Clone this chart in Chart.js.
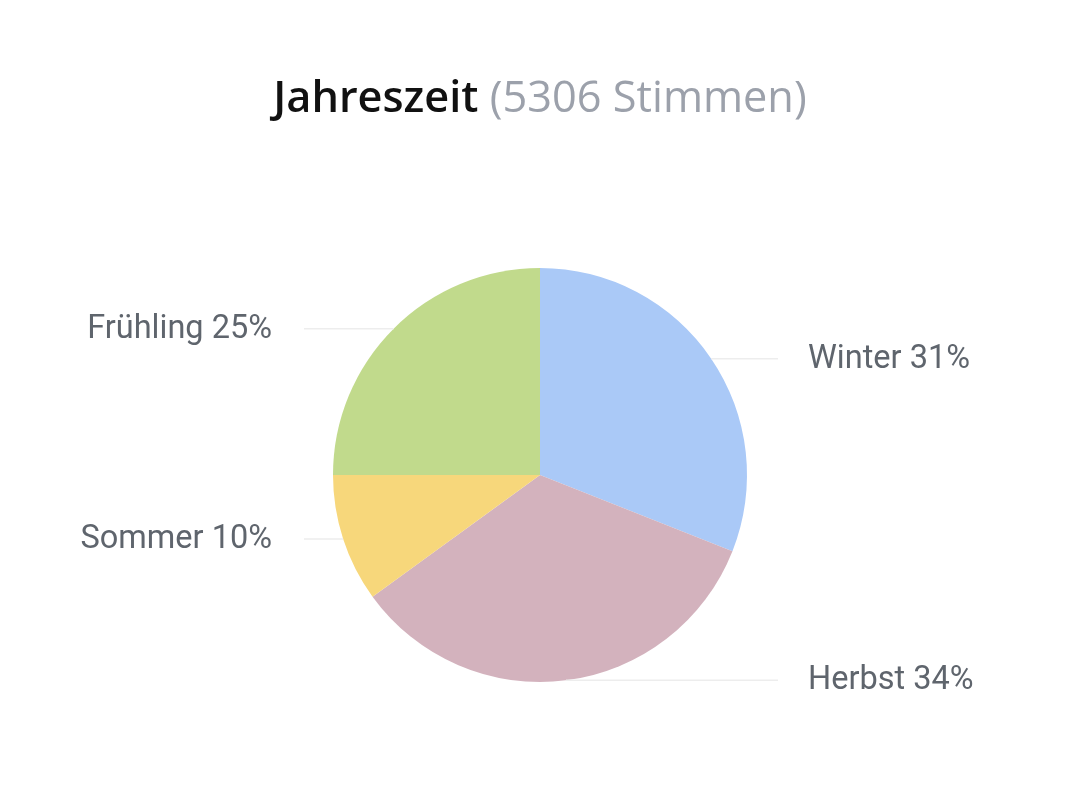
<!DOCTYPE html>
<html>
<head>
<meta charset="utf-8">
<script src="https://cdn.jsdelivr.net/npm/chart.js@4.4.1/dist/chart.umd.min.js"></script>
<style>
  html, body { margin: 0; padding: 0; background: #fff; }
  #wrap { position: relative; width: 1080px; height: 801px; }
  #title {
    position: absolute; left: 0; top: 66px; width: 1080px; text-align: center;
    font-family: "Open Sans", "Noto Sans", sans-serif; font-size: 43.3px; line-height: 60px;
  }
  #title .main { color: #111111; font-weight: 600; }
  #title .sub { color: #9ca1ab; font-weight: 400; }
  canvas { position: absolute; left: 0; top: 0; }
</style>
</head>
<body>
<div id="wrap">
  <canvas id="pie" width="1080" height="801"></canvas>
  <div id="title"><span class="main">Jahreszeit</span> <span class="sub">(5306 Stimmen)</span></div>
</div>
<script>
const labels = ["Winter", "Herbst", "Sommer", "Frühling"];
const values = [31, 34, 10, 25];
const colors = ["#aac9f7", "#d3b2bd", "#f7d77b", "#c1da8c"];

// leader lines and outside labels
const outsideLabels = {
  id: "outsideLabels",
  afterDatasetsDraw(chart) {
    const ctx = chart.ctx;
    const arcs = chart.getDatasetMeta(0).data;
    ctx.save();
    arcs.forEach((arc, i) => {
      const p = arc.getProps(["x", "y", "startAngle", "endAngle", "outerRadius"], true);
      const mid = (p.startAngle + p.endAngle) / 2;
      const px = p.x + Math.cos(mid) * p.outerRadius;
      const py = p.y + Math.sin(mid) * p.outerRadius;
      const right = Math.cos(mid) >= 0;
      const lineEnd = right ? p.x + 238 : p.x - 236;
      ctx.strokeStyle = "#ededed";
      ctx.lineWidth = 1.5;
      ctx.beginPath();
      ctx.moveTo(px, py);
      ctx.lineTo(lineEnd, py);
      ctx.stroke();
      ctx.fillStyle = "#5f656d";
      ctx.font = "32.5px Roboto";
      ctx.textBaseline = "middle";
      ctx.textAlign = right ? "left" : "right";
      ctx.fillText(labels[i] + " " + values[i] + "%", right ? p.x + 268 : p.x - 268, py + 1);
    });
    ctx.restore();
  }
};

new Chart(document.getElementById("pie"), {
  type: "pie",
  data: {
    labels: labels,
    datasets: [{
      data: values,
      backgroundColor: colors,
      borderWidth: 0,
    }]
  },
  options: {
    responsive: false,
    animation: false,
    layout: { padding: { top: 268, bottom: 119, left: 0, right: 0 } },
    plugins: {
      legend: { display: false },
      tooltip: { enabled: false },
      title: { display: false }
    }
  },
  plugins: [outsideLabels]
});
</script>
</body>
</html>
